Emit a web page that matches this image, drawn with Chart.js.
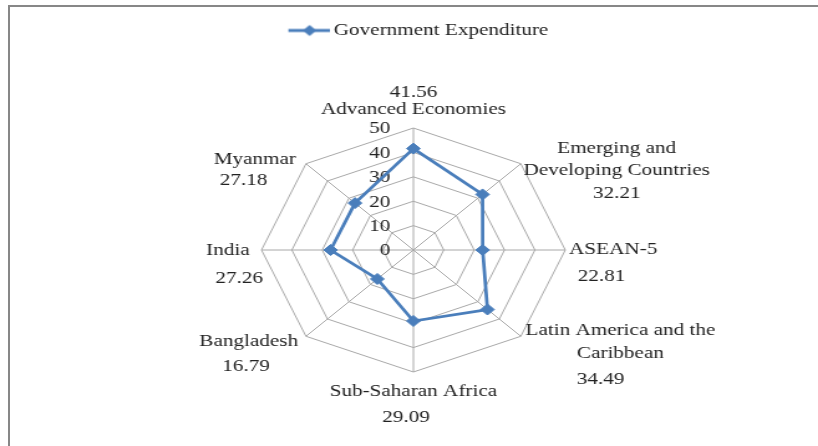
<!DOCTYPE html>
<html>
<head>
<meta charset="utf-8">
<title>Government Expenditure</title>
<script src="https://cdn.jsdelivr.net/npm/chart.js@4.4.0/dist/chart.umd.min.js"></script>
<style>
    html, body { margin: 0; padding: 0; background: #fff; overflow: hidden; width: 818px; height: 446px; }
    /* chart frame: only the top and left edges fall inside the view */
    #frame { position: absolute; left: 8px; top: 5px; width: 830px; height: 460px;
             border-top: 2px solid #878787; border-left: 2px solid #878787; pointer-events: none; }
    /* the plot is drawn narrow and widened to the page width */
    #wrap { position: absolute; left: 0; top: 0; width: 657px; height: 460px;
            transform: scaleX(1.2451); transform-origin: 0 0; }
</style>
</head>
<body>
<div id="wrap"><canvas id="radarChart" width="657" height="460"></canvas></div>
<div id="frame"></div>
<script>
// Categories, one per spoke (clockwise from the top)
const categories = [
    'Advanced Economies',
    ['Emerging and', 'Developing Countries'],
    'ASEAN-5',
    ['Latin America and the', 'Caribbean'],
    'Sub-Saharan Africa',
    'Bangladesh',
    'India',
    'Myanmar'
];
// Government expenditure, % of GDP
const expenditure = [41.56, 32.21, 22.81, 34.49, 29.09, 16.79, 27.26, 27.18];
// Radial axis tick values
const rTicks = [0, 10, 20, 30, 40, 50];

const seriesName = 'Government Expenditure';
const seriesColor = '#4a7ebb';
const gridColor = '#a8a8a8';
const textColor = '#222222';
const fontFamily = '"Liberation Serif", serif';
const fontSize = 17;
const lineGap = 22.5;

// Label placement around the outer ring: [dx, dy] from each spoke tip
const labelOffsets = [[0, -19], [77, -5], [38.5, -1], [80, 5], [0, 19], [-46, 4], [-27, 0], [-41, -5]];
const valueOffsets = [[0, -36], [77, 29], [29, 26], [64, 42], [-6, 45], [-48, 29], [-18, 28], [-50, 16]];

/**
 * Legend symbol: a short line with a diamond on it
 */
function legendSymbol() {
    const c = document.createElement('canvas');
    c.width = 46;
    c.height = 14;
    const g = c.getContext('2d');
    g.strokeStyle = seriesColor;
    g.fillStyle = seriesColor;
    g.lineWidth = 3;
    g.beginPath();
    g.moveTo(13, 7);
    g.lineTo(46, 7);
    g.stroke();
    g.beginPath();
    g.moveTo(30, 1.5);
    g.lineTo(35.5, 7);
    g.lineTo(30, 12.5);
    g.lineTo(24.5, 7);
    g.closePath();
    g.fill();
    return c;
}

// Tick numbers to the left of the vertical spoke
const tickText = {
    id: 'tickText',
    beforeDatasetsDraw(chart) {
        const r = chart.scales.r;
        const ctx = chart.ctx;
        ctx.save();
        ctx.fillStyle = textColor;
        ctx.font = fontSize + 'px ' + fontFamily;
        ctx.textAlign = 'right';
        ctx.textBaseline = 'middle';
        r.ticks.forEach(t => {
            const y = r.yCenter - r.getDistanceFromCenterForValue(t.value);
            ctx.fillText(String(t.value), r.xCenter - 18.5, y + 1);
        });
        ctx.restore();
    }
};

// Category names and value labels around the ring
const outerLabels = {
    id: 'outerLabels',
    afterDatasetsDraw(chart) {
        const r = chart.scales.r;
        const ctx = chart.ctx;
        ctx.save();
        ctx.fillStyle = textColor;
        ctx.font = fontSize + 'px ' + fontFamily;
        ctx.textAlign = 'center';
        ctx.textBaseline = 'middle';
        categories.forEach((cat, i) => {
            const tip = r.getPointPositionForValue(i, r.max);
            const lines = [].concat(cat);
            const [lx, ly] = labelOffsets[i];
            const top = tip.y + ly - (lines.length - 1) * lineGap / 2;
            lines.forEach((line, k) => ctx.fillText(line, tip.x + lx, top + k * lineGap + 1));
            const [vx, vy] = valueOffsets[i];
            ctx.fillText(expenditure[i].toFixed(2), tip.x + vx, tip.y + vy + 1);
        });
        ctx.restore();
    }
};

document.addEventListener('DOMContentLoaded', function() {
    const ctx = document.getElementById('radarChart').getContext('2d');

    window.radarChart = new Chart(ctx, {
        type: 'radar',
        data: {
            labels: categories,
            datasets: [{
                label: seriesName,
                data: expenditure,
                borderColor: seriesColor,
                backgroundColor: 'rgba(0, 0, 0, 0)',
                borderWidth: 2.75,
                fill: false,
                pointStyle: 'rectRot',
                pointRadius: 5.5,
                pointBackgroundColor: seriesColor,
                pointBorderColor: seriesColor,
                pointBorderWidth: 1
            }]
        },
        options: {
            responsive: false,
            animation: false,
            devicePixelRatio: 1,
            layout: {
                padding: { left: 210, right: 203, top: 0, bottom: 9 }
            },
            plugins: {
                legend: {
                    display: true,
                    position: 'top',
                    labels: {
                        usePointStyle: true,
                        pointStyle: legendSymbol(),
                        pointStyleWidth: 36,
                        padding: 22,
                        color: textColor,
                        font: { family: fontFamily, size: fontSize }
                    }
                },
                tooltip: { enabled: false }
            },
            scales: {
                r: {
                    min: 0,
                    max: 50,
                    afterBuildTicks: function(scale) {
                        scale.ticks = rTicks.map(v => ({ value: v }));
                    },
                    ticks: { display: false },
                    pointLabels: { display: false },
                    grid: { color: gridColor, lineWidth: 1 },
                    angleLines: { color: gridColor, lineWidth: 1 }
                }
            }
        },
        plugins: [tickText, outerLabels]
    });
});
</script>
</body>
</html>
